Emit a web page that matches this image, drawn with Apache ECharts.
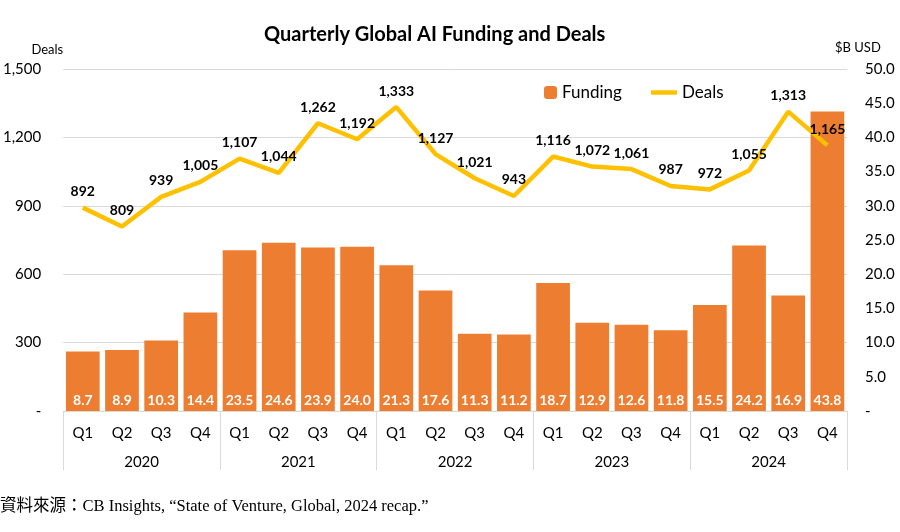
<!DOCTYPE html>
<html>
<head>
<meta charset="utf-8">
<script src="https://cdn.jsdelivr.net/npm/echarts@6/dist/echarts.min.js"></script>
<style>
html,body{margin:0;padding:0;background:#fff;}
#chart{width:900px;height:532px;}
</style>
</head>
<body>
<div id="chart"></div>
<script>
const quarters = ['Q1','Q2','Q3','Q4','Q1','Q2','Q3','Q4','Q1','Q2','Q3','Q4','Q1','Q2','Q3','Q4','Q1','Q2','Q3','Q4'];
const years = ['2020','2021','2022','2023','2024'];
const funding = [8.7, 8.9, 10.3, 14.4, 23.5, 24.6, 23.9, 24.0, 21.3, 17.6, 11.3, 11.2, 18.7, 12.9, 12.6, 11.8, 15.5, 24.2, 16.9, 43.8];
const deals = [892, 809, 939, 1005, 1107, 1044, 1262, 1192, 1333, 1127, 1021, 943, 1116, 1072, 1061, 987, 972, 1055, 1313, 1165];
const leftTicks = [0, 300, 600, 900, 1200, 1500];
const rightTicks = [0, 5, 10, 15, 20, 25, 30, 35, 40, 45, 50];

const FONT = 'Lato, "Noto Sans", sans-serif';
const chart = echarts.init(document.getElementById('chart'));
chart.setOption({
  animation: false,
  backgroundColor: '#fff',
  title: {
    text: 'Quarterly Global AI Funding and Deals',
    left: 259, top: 20,
    textStyle: {fontFamily: FONT, fontSize: 20, fontWeight: 'bold', color: '#000'}
  },
  graphic: [{
    type: 'text', left: 0, top: 498,
    style: {
      text: '資料來源：CB Insights, \u201cState of Venture, Global, 2024 recap.\u201d',
      fontFamily: '"Liberation Serif", "Noto Sans CJK TC", serif',
      fontSize: 16.5, fill: '#000'
    }
  }],
  legend: [{
    data: ['Funding'], left: 539, top: 79,
    itemWidth: 13, itemHeight: 13, itemGap: 4,
    textStyle: {fontFamily: FONT, fontSize: 17, color: '#000'}
  }, {
    data: [{name: 'Deals', icon: 'rect', itemStyle: {color: '#FFC000', opacity: 1}}], left: 646, top: 79,
    itemWidth: 26, itemHeight: 4.5,
    textStyle: {fontFamily: FONT, fontSize: 17, color: '#000'}
  }],
  grid: {left: 60, right: 53, top: 69, bottom: 121},
  xAxis: [{
    type: 'category', data: quarters, gridIndex: 0,
    axisLine: {show: true, lineStyle: {color: '#d9d9d9'}},
    axisTick: {show: false},
    axisLabel: {fontFamily: FONT, fontSize: 15, color: '#000', margin: 15, interval: 0}
  }, {
    type: 'category', data: years, gridIndex: 0, position: 'bottom',
    axisLine: {show: false},
    axisTick: {show: true, length: 59, lineStyle: {color: '#d9d9d9'}},
    axisLabel: {fontFamily: FONT, fontSize: 15, color: '#000', margin: 44}
  }],
  yAxis: [{
    type: 'value', min: leftTicks[0], max: leftTicks[leftTicks.length - 1], interval: 300,
    name: 'Deals', nameLocation: 'end', nameGap: 13,
    nameTextStyle: {fontFamily: FONT, fontSize: 13, color: '#000', align: 'right', padding: [0, 0, 0, 0]},
    axisLine: {show: false}, axisTick: {show: false},
    splitLine: {lineStyle: {color: '#d9d9d9'}},
    axisLabel: {
      fontFamily: FONT, fontSize: 15, color: '#000', margin: 22,
      formatter: v => v === 0 ? '-' : v.toLocaleString('en-US')
    }
  }, {
    type: 'value', min: rightTicks[0], max: rightTicks[rightTicks.length - 1], interval: 5,
    name: '$B USD', nameLocation: 'end', nameGap: 15,
    nameTextStyle: {fontFamily: FONT, fontSize: 13, color: '#000', align: 'left', padding: [0, 0, 0, -12]},
    axisLine: {show: false}, axisTick: {show: false}, splitLine: {show: false},
    axisLabel: {
      fontFamily: FONT, fontSize: 15, color: '#000', margin: 18, align: 'left',
      formatter: v => v === 0 ? '-' : v.toFixed(1)
    }
  }],
  series: [{
    name: 'Funding', type: 'bar', data: funding, xAxisIndex: 0, yAxisIndex: 1,
    barCategoryGap: '14%',
    itemStyle: {color: '#ED7D31'},
    label: {
      show: true, position: 'insideBottom', distance: 4,
      fontFamily: FONT, fontSize: 14, fontWeight: 'bold', color: '#fff',
      formatter: p => p.value.toFixed(1)
    },
    z: 2
  }, {
    name: 'Deals', type: 'line', data: deals, xAxisIndex: 0, yAxisIndex: 0,
    symbol: 'circle', symbolSize: 0.1, showSymbol: true,
    lineStyle: {color: '#FFC000', width: 4.5},
    itemStyle: {color: '#FFC000'},
    label: {
      show: true, position: 'top', distance: 9,
      fontFamily: FONT, fontSize: 14, fontWeight: 'bold', color: '#000',
      formatter: p => p.value.toLocaleString('en-US')
    },
    z: 3
  }]
});
</script>
</body>
</html>
